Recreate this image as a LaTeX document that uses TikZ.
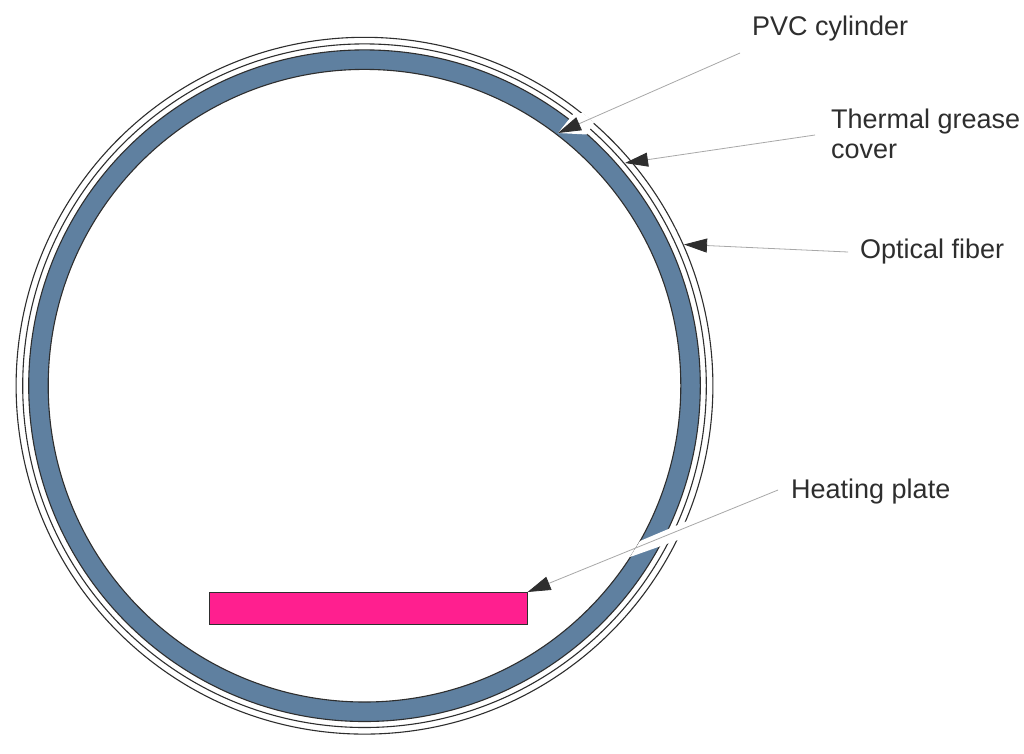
\documentclass[tikz,border=0pt]{standalone}
\usepackage{fontspec}
\setmainfont{Liberation Sans}
\usetikzlibrary{arrows.meta}
\definecolor{pipeblue}{HTML}{5F80A0}
\definecolor{platepink}{HTML}{FF1F8F}
\definecolor{inkdark}{HTML}{2E2E2E}
\definecolor{leadgray}{HTML}{A8A8A8}
\tikzset{
  ringline/.style={draw=inkdark,line width=1.1pt},
  gapfill/.style={fill=white,draw=none},
  lead/.style={draw=leadgray,line width=0.8pt,-{Triangle[length=23pt,width=14pt,color=inkdark]}},
  lbl/.style={inner sep=0pt,anchor=base west,text=inkdark,font=\fontsize{27}{30}\selectfont,align=left},
}
\begin{document}
\begin{tikzpicture}[x=1pt,y=-1pt]
\useasboundingbox (0,0) rectangle (1024,753);
\fill[white] (0,0) rectangle (1024,753);
\coordinate (c) at (364.5,385.7);
% rings
\fill[pipeblue,even odd rule] (c) circle[radius=335.8pt] (c) circle[radius=316.3pt];
\draw[ringline] (c) circle[radius=335.8pt];
\draw[ringline] (c) circle[radius=316.3pt];
\draw[ringline] (c) circle[radius=341.8pt];
\draw[ringline] (c) circle[radius=348.4pt];
% gaps left by the leader lines
\fill[gapfill] (558,133) -- (587,134.5) -- (594,122.5) -- (583,113) -- (574,113) -- cycle;
\fill[gapfill] (640,541) -- (692,519) -- (692,535) -- (630,557) -- cycle;
% heating plate
\node[draw=inkdark,fill=platepink,line width=0.6pt,minimum width=318pt,minimum height=32pt,inner sep=0pt,anchor=north west] (plate) at (209,592) {};
% labels
\node[lbl] (pvc) at (752,35) {PVC cylinder};
\node[lbl] (grease) at (831,158) {Thermal grease\\cover};
\node[lbl] (fiber) at (860,258) {Optical fiber};
\node[lbl] (heat) at (791,498) {Heating plate};
% connector ends
\coordinate (pvcA) at (740,53);
\coordinate (pvcB) at (558,133);
\coordinate (greaseA) at (815,135);
\coordinate (greaseB) at (625,163);
\coordinate (fiberA) at (848,252);
\coordinate (fiberB) at (684,244.5);
\coordinate (heatA) at (778,490);
% connectors
\draw[lead] (pvcA) -- (pvcB);
\draw[lead] (greaseA) -- (greaseB);
\draw[lead] (fiberA) -- (fiberB);
\draw[lead] (heatA) -- (plate.north east);
\end{tikzpicture}
\end{document}
